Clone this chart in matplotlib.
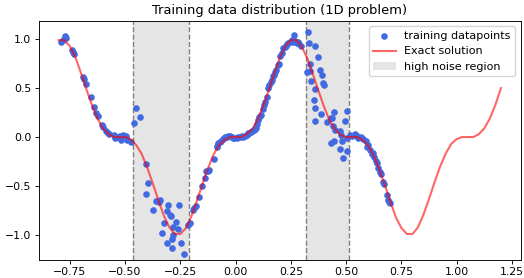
import numpy as np
import matplotlib
matplotlib.use("Agg")
import matplotlib.pyplot as plt

# exact solution, every 0.025
curve_x = np.round(np.arange(-0.8, 1.2001, 0.025), 3)
curve_y = [0.99, 0.99, 0.93, 0.82, 0.66, 0.49, 0.33, 0.19, 0.09, 0.03,
           0.00, 0.00, 0.00, -0.02, -0.08, -0.17, -0.31, -0.47, -0.64, -0.80,
           -0.92, -0.99, -0.99, -0.93, -0.81, -0.65, -0.48, -0.32, -0.18, -0.08,
           -0.03, 0.00, 0.00, 0.00, 0.03, 0.08, 0.18, 0.32, 0.48, 0.65,
           0.81, 0.93, 0.99, 0.99, 0.92, 0.80, 0.64, 0.47, 0.31, 0.17,
           0.08, 0.02, 0.00, 0.00, 0.00, -0.03, -0.09, -0.19, -0.33, -0.49,
           -0.66, -0.82, -0.93, -0.99, -0.99, -0.92, -0.79, -0.63, -0.46, -0.30,
           -0.17, -0.07, -0.02, 0.00, 0.00, 0.00, 0.03, 0.09, 0.19, 0.33,
           0.50]

# training points (low noise left, noisy 1, middle, noisy 2, right)
train_x = [-0.788, -0.773, -0.765, -0.780, -0.742, -0.735, -0.730, -0.690, -0.686, -0.675,
           -0.656, -0.640, -0.630, -0.622, -0.602, -0.598, -0.584, -0.578, -0.572, -0.551,
           -0.546, -0.530, -0.524, -0.516, -0.509, -0.497, -0.491, -0.471,
           -0.459, -0.451, -0.433, -0.403, -0.398, -0.403, -0.358, -0.340, -0.345, -0.373,
           -0.305, -0.255, -0.308, -0.297, -0.294, -0.323, -0.270, -0.282, -0.260, -0.332,
           -0.282, -0.287, -0.312, -0.249, -0.287, -0.234, -0.213,
           -0.208, -0.192, -0.188, -0.180, -0.165, -0.150, -0.139, -0.134, -0.127, -0.120,
           -0.097, -0.086, -0.083, -0.079, -0.071, -0.065, -0.059, -0.052, -0.048, -0.040,
           -0.033, -0.026, -0.018, -0.011, -0.005, 0.005, 0.010, 0.019, 0.028, 0.035,
           0.042, 0.050, 0.057, 0.062, 0.068, 0.075, 0.083, 0.088, 0.092, 0.097,
           0.102, 0.108, 0.113, 0.122, 0.128, 0.133, 0.140, 0.148, 0.152, 0.158,
           0.163, 0.170, 0.173, 0.178, 0.181, 0.192, 0.197, 0.200, 0.208, 0.215,
           0.222, 0.228, 0.233, 0.238, 0.245, 0.253, 0.258, 0.265, 0.270, 0.276,
           0.283, 0.288, 0.294,
           0.326, 0.333, 0.359, 0.374, 0.322, 0.338, 0.336, 0.382, 0.392, 0.339,
           0.394, 0.401, 0.360, 0.355, 0.359, 0.385, 0.446, 0.502, 0.431, 0.437,
           0.359, 0.412, 0.495, 0.442, 0.450, 0.472, 0.478, 0.502, 0.431, 0.446,
           0.480, 0.472, 0.502, 0.487,
           0.517, 0.525, 0.540, 0.548, 0.555, 0.565, 0.575, 0.588, 0.593, 0.600,
           0.608, 0.615, 0.620, 0.626, 0.635, 0.640, 0.646, 0.653, 0.658, 0.668,
           0.672, 0.686, 0.691, 0.699, 0.695]
train_y = [0.976, 1.03, 1.01, 0.99, 0.89, 0.87, 0.85, 0.61, 0.59, 0.54,
           0.41, 0.31, 0.245, 0.22, 0.12, 0.10, 0.058, 0.04, 0.03, 0.017,
           -0.01, 0.00, 0.007, -0.027, 0.017, 0.007, -0.027, -0.05,
           0.146, 0.30, 0.21, -0.276, -0.47, -0.58, -0.65, -0.64, -0.66, -0.745,
           -0.69, -0.69, -0.755, -0.80, -0.81, -0.88, -0.87, -0.915, -0.94, -0.98,
           -1.00, -1.04, -1.085, -1.08, -1.136, -1.19, -0.90,
           -0.88, -0.74, -0.72, -0.70, -0.61, -0.50, -0.42, -0.345, -0.35, -0.34,
           -0.22, -0.10, -0.09, -0.065, -0.05, -0.04, -0.024, -0.01, -0.003, 0.005,
           0.012, 0.01, 0.005, -0.013, -0.01, -0.013, 0.0, 0.003, 0.008, 0.0,
           0.01, 0.025, 0.037, 0.04, 0.054, 0.06, 0.07, 0.085, 0.088, 0.13,
           0.173, 0.20, 0.224, 0.29, 0.33, 0.36, 0.41, 0.50, 0.53, 0.56,
           0.58, 0.62, 0.63, 0.66, 0.68, 0.74, 0.75, 0.826, 0.86, 0.905,
           0.92, 0.93, 0.95, 0.956, 0.97, 0.99, 0.97, 1.04, 0.98, 0.956,
           0.97, 0.95, 0.93,
           1.07, 0.96, 0.935, 0.82, 0.66, 0.67, 0.745, 0.69, 0.63, 0.575,
           0.55, 0.53, 0.49, 0.38, 0.30, 0.24, 0.26, 0.27, 0.19, 0.19,
           0.166, 0.15, 0.166, 0.11, 0.075, 0.058, 0.02, -0.01, -0.06, -0.045,
           -0.045, -0.12, -0.146, -0.21,
           0.02, 0.01, 0.03, 0.01, -0.01, 0.0, -0.02, -0.04, -0.10, -0.08,
           -0.13, -0.17, -0.16, -0.20, -0.245, -0.27, -0.32, -0.354, -0.38, -0.456,
           -0.48, -0.59, -0.643, -0.67, -0.66]

noise_regions = [(-0.462, -0.211), (0.317, 0.511)]

fig, ax = plt.subplots(figsize=(5.24, 2.78), dpi=100)
fig.subplots_adjust(left=0.074, right=0.994, top=0.925, bottom=0.065)

for i, (a, b) in enumerate(noise_regions):
    ax.axvspan(a, b, color="gray", alpha=0.2, lw=0, zorder=0,
               label="high noise region" if i == 0 else None)
    ax.axvline(a, color="gray", ls="--", lw=1, zorder=1)
    ax.axvline(b, color="gray", ls="--", lw=1, zorder=1)

sc = ax.scatter(train_x, train_y, s=14, color="royalblue", zorder=2,
                label="training datapoints")
ln, = ax.plot(curve_x, curve_y, color="red", alpha=0.6, lw=1.5, zorder=3,
              label="Exact solution")

ax.set_xlim(-0.89, 1.29)
ax.set_ylim(-1.255, 1.187)
ax.set_xticks([-0.75, -0.5, -0.25, 0, 0.25, 0.5, 0.75, 1.0, 1.25])
ax.set_yticks([-1.0, -0.5, 0.0, 0.5, 1.0])
ax.tick_params(labelsize=7.8, length=2.7, pad=2.7, width=0.65)
for sp in ax.spines.values():
    sp.set_linewidth(0.65)
ax.set_title("Training data distribution (1D problem)", fontsize=9.4, pad=4.7)

handles, labels = ax.get_legend_handles_labels()
order = [labels.index("training datapoints"), labels.index("Exact solution"),
         labels.index("high noise region")]
ax.legend([handles[i] for i in order], [labels[i] for i in order],
          loc="upper right", fontsize=8)

plt.savefig("out.png", dpi=100)
